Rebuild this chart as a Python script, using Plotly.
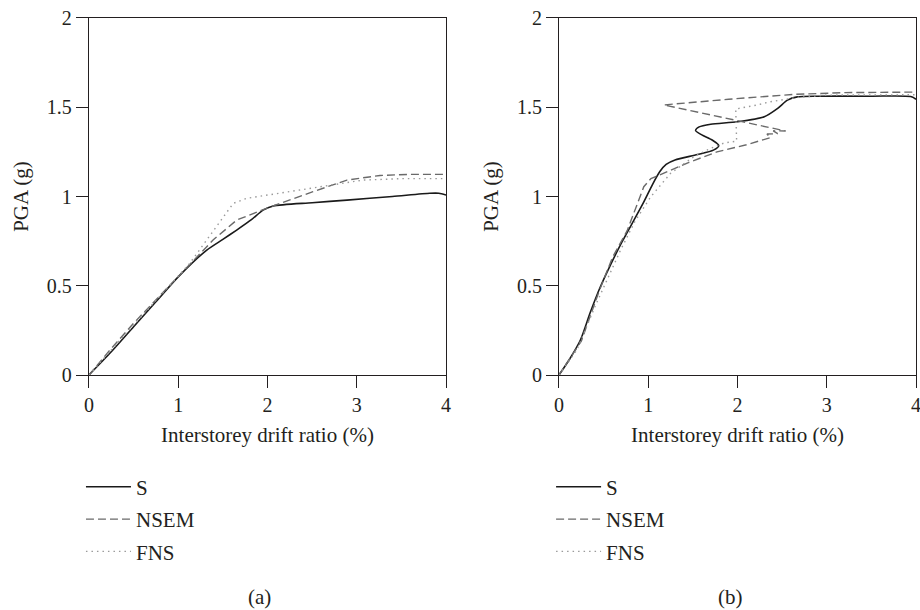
import plotly.graph_objects as go
from plotly.subplots import make_subplots

# ---- Panel (a): PGA vs. interstorey drift ratio ----
a_s_x = [0, 0.25, 0.5, 0.75, 1.0, 1.32, 1.5, 1.655, 1.82, 1.95, 2.065, 2.5, 2.89, 3.4, 3.82, 3.92, 4.0]
a_s_y = [0, 0.13, 0.27, 0.41, 0.55, 0.70, 0.76, 0.812, 0.87, 0.924, 0.947, 0.965, 0.98, 1.0, 1.018, 1.018, 1.008]

a_nsem_x = [0, 0.235, 0.5, 1.0, 1.39, 1.655, 1.99, 2.51, 2.89, 3.26, 3.6, 4.0]
a_nsem_y = [0, 0.14, 0.29, 0.55, 0.756, 0.868, 0.934, 1.027, 1.092, 1.118, 1.124, 1.124]

a_fns_x = [0, 0.5, 1.13, 1.617, 1.77, 2.14, 2.70, 3.07, 3.5, 4.0]
a_fns_y = [0, 0.28, 0.626, 0.962, 0.99, 1.018, 1.064, 1.092, 1.10, 1.10]

# ---- Panel (b) ----
b_s_x = [0, 0.12, 0.24, 0.35, 0.46, 0.58, 0.70, 0.82, 0.94, 1.05, 1.13, 1.20, 1.30,
         1.55, 1.73, 1.79, 1.72, 1.60, 1.53, 1.57, 1.70, 2.0, 2.30, 2.45, 2.56, 2.67, 2.90,
         3.5, 3.94, 4.0]
b_s_y = [0, 0.09, 0.196, 0.35, 0.49, 0.62, 0.74, 0.85, 0.96, 1.07, 1.14, 1.18, 1.205,
         1.235, 1.26, 1.285, 1.315, 1.345, 1.37, 1.39, 1.405, 1.419, 1.447, 1.494, 1.54, 1.558,
         1.562, 1.562, 1.56, 1.545]

b_nsem_x = [0, 0.25, 0.45, 0.6, 0.765, 0.95, 1.03, 1.21, 1.45, 1.77, 2.10, 2.37, 2.33, 2.45,
            2.40, 2.54, 1.175, 1.9, 2.63, 3.2, 4.0]
b_nsem_y = [0, 0.19, 0.47, 0.66, 0.81, 1.055, 1.10, 1.14, 1.19, 1.25, 1.29, 1.33, 1.35, 1.352,
            1.368, 1.367, 1.513, 1.545, 1.572, 1.582, 1.585]

b_fns_x = [0, 0.2, 0.4, 0.55, 0.69, 0.85, 1.03, 1.25, 1.51, 1.70, 1.85, 1.99, 1.98, 2.22,
           2.37, 2.67, 3.0, 4.0]
b_fns_y = [0, 0.14, 0.38, 0.55, 0.70, 0.86, 1.0, 1.13, 1.223, 1.27, 1.30, 1.31, 1.49, 1.513,
           1.531, 1.555, 1.568, 1.57]

x_ticks = [0, 1, 2, 3, 4]
y_ticks = [0, 0.5, 1, 1.5, 2]
y_tick_text = ["0", "0.5", "1", "1.5", "2"]
series_names = ["S", "NSEM", "FNS"]
panel_labels = ["(a)", "(b)"]

FONT = "Liberation Serif"
INK = "#231f20"
styles = [
    dict(color="#1a1a1a", width=1.6, dash="solid", shape="spline", smoothing=0.7),
    dict(color="#6a6a6a", width=1.4, dash="8px,4px", shape="linear"),
    dict(color="#9a9a9a", width=1.4, dash="1.5px,4px", shape="linear"),
]

fig = make_subplots(rows=1, cols=2)

panels = [
    [(a_s_x, a_s_y), (a_nsem_x, a_nsem_y), (a_fns_x, a_fns_y)],
    [(b_s_x, b_s_y), (b_nsem_x, b_nsem_y), (b_fns_x, b_fns_y)],
]
legend_ids = ["legend", "legend2"]

for p, series in enumerate(panels):
    for k, (xs, ys) in enumerate(series):
        fig.add_trace(
            go.Scatter(
                x=xs, y=ys, mode="lines", name=series_names[k],
                line=dict(**styles[k]),
                legend=legend_ids[p],
                legendgroup=f"{legend_ids[p]}_{k}",
                hoverinfo="skip",
            ),
            row=1, col=p + 1,
        )

axis_common = dict(
    showgrid=False, zeroline=False, showline=True, linecolor=INK, linewidth=1.2,
    mirror=True, ticks="outside", ticklen=12, tickwidth=1.2, tickcolor=INK,
    tickfont=dict(family=FONT, size=20, color=INK),
    ticklabeloverflow="allow",
    automargin=False,
)

x_domains = [[0.0967, 0.4848], [0.6076, 0.9957]]
y_domain = [0.3852, 0.9705]

for i in range(2):
    fig.update_xaxes(
        domain=x_domains[i], range=[0, 4], tickvals=x_ticks,
        title=dict(text="Interstorey drift ratio (%)", font=dict(family=FONT, size=21, color=INK),
                   standoff=12),
        **axis_common, row=1, col=i + 1,
    )
    fig.update_yaxes(
        domain=y_domain, range=[0, 2], tickvals=y_ticks, ticktext=y_tick_text,
        title=dict(text="PGA (g)", font=dict(family=FONT, size=21, color=INK), standoff=12),
        **axis_common, row=1, col=i + 1,
    )

legend_common = dict(
    font=dict(family=FONT, size=21, color=INK),
    bgcolor="rgba(0,0,0,0)", borderwidth=0,
    xanchor="left", yanchor="top", tracegroupgap=2, itemwidth=45,
    itemclick=False, itemdoubleclick=False,
)
fig.update_layout(
    legend=dict(x=0.088, y=0.235, **legend_common),
    legend2=dict(x=0.599, y=0.235, **legend_common),
)

for label, xc in zip(panel_labels, [0.2826, 0.7935]):
    fig.add_annotation(
        text=label, x=xc, y=0.022, xref="paper", yref="paper",
        xanchor="center", yanchor="middle",
        showarrow=False, font=dict(family=FONT, size=21, color=INK),
    )

fig.update_layout(
    width=920, height=610,
    margin=dict(l=0, r=0, t=0, b=0),
    paper_bgcolor="white", plot_bgcolor="white",
    showlegend=True,
)

fig.write_html("out.html")
